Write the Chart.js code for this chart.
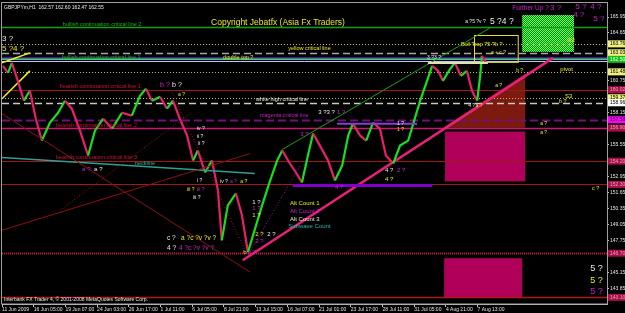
<!DOCTYPE html>
<html>
<head>
<meta charset="utf-8">
<script src="https://cdn.jsdelivr.net/npm/chart.js@4.4.0/dist/chart.umd.min.js"></script>
<style>
  html, body { margin: 0; padding: 0; background: #000; }
  canvas { display: block; }
</style>
</head>
<body>
<canvas id="chart" width="625" height="313" style="width:625px;height:313px"></canvas>
<script>
// GBPJPY H1, 11 Jun - 7 Aug 2009. x = bar number (one bar = one hour)
const timeLabels = ['11 Jun 2009', '16 Jun 05:00', '19 Jun 07:00', '24 Jun 03:00', '26 Jun 17:00', '1 Jul 11:00',
  '6 Jul 05:00', '8 Jul 21:00', '13 Jul 15:00', '16 Jul 07:00', '21 Jul 01:00', '23 Jul 17:00',
  '28 Jul 11:00', '31 Jul 05:00', '4 Aug 21:00', '7 Aug 13:00'];
const barsPerLabel = 74;
const priceTicks = [165.95, 164.65, 160.75, 158.15, 155.55, 152.95, 151.65, 150.35, 149.05, 147.75, 145.15, 143.85];

// price swings
const barIndex = [2, 14, 23, 37, 51, 65, 79, 93, 112, 131, 147, 163, 182, 201, 217, 236, 257, 280, 303, 322,
  336, 350, 369, 385, 399, 415, 432, 446, 457, 474, 490, 504, 513, 527, 546, 560, 574, 588, 607, 626,
  642, 654, 672, 686, 700, 714, 726, 742, 761, 777, 794, 808, 819, 836, 850, 866, 882, 896, 913, 929,
  948, 962, 976, 992, 1004, 1018, 1029, 1046, 1057, 1071, 1085, 1097, 1109, 1116, 1120, 1130];
const closePrices = [161.97, 161.40, 162.21, 160.75, 159.13, 159.94, 157.66, 155.88, 157.34, 158.15, 159.13, 158.48,
  156.69, 154.66, 156.69, 157.66, 156.85, 158.15, 157.91, 159.53, 160.10, 159.13, 159.45, 158.48, 159.13,
  157.66, 156.28, 154.25, 155.07, 153.28, 154.25, 151.82, 147.75, 150.60, 151.57, 149.79, 146.78, 148.40,
  150.60, 152.63, 154.25, 155.07, 154.01, 153.28, 152.47, 154.66, 156.45, 155.47, 154.25, 152.63, 153.85,
  156.28, 157.26, 156.28, 155.88, 157.34, 156.85, 154.66, 154.01, 155.47, 155.88, 157.50, 159.13, 160.75,
  161.97, 161.56, 160.75, 161.73, 162.21, 161.16, 161.56, 159.94, 159.13, 161.16, 162.78, 162.21];

// horizontal levels
const levelNames = ['bull2', 'R3', 'yellowCrit', 'purple', 'bid', 'blue', 'pivot', 'bear1', 'S3', 'whiteHigh',
  'magentaCrit', 'bear2', 'bear3', 'bear4', 'bear5', 'bottom'];
const levelPrices = [165.14, 163.76, 163.03, 162.62, 162.50, 162.40, 161.48, 160.02, 159.37, 158.96,
  157.58, 156.90, 154.20, 152.30, 146.70, 143.10];

// trend lines [bar, price]
const pinkTrend = [[562, 146.13], [1286, 162.62]];
const greenChannel = [[654, 155.15], [1139, 165.06]];
const yellowLineA = [[0, 159.29], [65, 161.56]];
const yellowLineB = [[0, 162.21], [65, 163.03]];
const neckline = [[0, 154.50], [590, 153.20]];
const redLine1 = [[0, 148.57], [579, 154.82]];
const redLine2 = [[135, 150.19], [439, 158.07]];
const redLine3 = [[0, 158.07], [579, 145.16]];
const redLine4 = [[397, 159.78], [572, 146.54]];
const redLine5 = [[574, 146.54], [696, 153.85]];
const purpleLow = [[679, 152.22], [1004, 152.22]];
const purpleMid = [[782, 157.26], [969, 157.26]];
const topBase = [[994, 162.21], [1134, 162.21]];

// zones [bar from, bar to, price top, price bottom]
const greenTarget = [1214, 1335, 166.11, 163.11];
const bullTrapBox = [1102, 1204, 164.49, 162.30];
const magentaZone1 = [1034, 1221, 156.61, 152.55];
const magentaZone2 = [1032, 1214, 146.29, 143.12];
const redWedge = [[1029, 156.93], [1221, 161.32], [1221, 156.93]];

const C = {
  green: '#22b022', yellow: '#e8e820', red: '#d0103a', white: '#e8e8e8', magenta: '#c820c8',
  teal: '#30b8a8', maroon: '#a8104a'
};

const levelStyle = {
  bull2: { color: '#10a010', width: 1.5, dash: [] },
  R3: { color: '#c8c020', width: 1, dash: [1, 2], tag: '#f0f080' },
  yellowCrit: { color: '#a8a8a8', width: 1.5, dash: [7, 4], tag: '#f0f080' },
  purple: { color: '#8040ff', width: 2, dash: [] },
  bid: { color: '#10ff10', width: 1, dash: [], tag: '#10c010', tagText: '#fff' },
  blue: { color: '#b8c8ff', width: 1, dash: [] },
  pivot: { color: '#c8c020', width: 1, dash: [1, 2], tag: '#f0f080' },
  bear1: { color: '#a01818', width: 1, dash: [], tag: C.maroon },
  S3: { color: '#c8c020', width: 1, dash: [1, 2], tag: '#f0f080' },
  whiteHigh: { color: '#c8c8c8', width: 1.5, dash: [7, 4], tag: '#ffffff' },
  magentaCrit: { color: '#70107a', width: 2, dash: [8, 4], tag: '#ff00ff' },
  bear2: { color: '#c81870', width: 1.5, dash: [], tag: C.maroon },
  bear3: { color: '#a01818', width: 1, dash: [], tag: C.maroon },
  bear4: { color: '#a01818', width: 1, dash: [], tag: C.maroon },
  bear5: { color: '#d0103a', width: 2, dash: [1, 1], tag: C.maroon },
  bottom: { color: '#b01818', width: 1.5, dash: [], tag: C.maroon }
};

// wave counts and labels [text, bar, price, colour, size]
const notes = [
  ['bullish continuation critical line 2', 142, 165.38, C.green, 5.5],
  ['Copyright Jebatfx (Asia Fx Traders)', 488, 165.46, C.yellow, 8.5],
  ['yellow critical line', 668, 163.35, C.yellow, 5.5],
  ['double top ?', 516, 162.62, C.yellow, 5.5],
  ['bullish continuation critical line 1', 140, 162.62, C.green, 5.5],
  ['bearish continuation critical line 1', 135, 160.26, C.red, 5.5],
  ['white high critical line', 593, 159.21, C.white, 5.5],
  ['magenta critical line', 602, 157.91, C.magenta, 5.5],
  ['bearish continuation critical line 2', 126, 157.10, C.red, 5.5],
  ['bearish continuation critical line 3', 126, 154.50, C.red, 5.5],
  ['neckline', 310, 154.01, C.teal, 5.5],
  ['Alt Count 1', 672, 150.76, C.yellow, 6],
  ['Alt Count 2', 672, 150.11, C.magenta, 6],
  ['Alt Count 3', 672, 149.46, C.white, 6],
  ['Subwave Count', 668, 148.89, C.teal, 6],
  ['Further Up ?', 1191, 166.68, C.magenta, 6.5],
  ['3 ?', 1279, 166.68, C.magenta, 8],
  ['5 ?', 1338, 166.76, C.magenta, 8],
  ['4 ?', 1373, 166.76, C.magenta, 8],
  ['4 ?', 1333, 166.11, C.magenta, 8],
  ['5 ?', 1380, 165.79, C.magenta, 8],
  ['a ?5 ?v ?', 1081, 165.55, C.white, 5],
  ['5 ?4 ?', 1139, 165.55, C.white, 8.5],
  ['Bull Trap ?5 ?b ?', 1071, 163.68, C.yellow, 5.5],
  ['a + c ?', 1141, 163.03, C.yellow, 5],
  ['R3', 1319, 164.08, C.yellow, 6],
  ['pivot', 1303, 161.65, C.yellow, 6],
  ['S3', 1314, 159.45, C.yellow, 6],
  ['3 ?3 ?', 992, 162.62, C.white, 5],
  ['b ?', 1200, 161.56, C.yellow, 5],
  ['a ?', 1151, 160.35, C.yellow, 5],
  ['b ?', 1300, 159.05, C.yellow, 5.5],
  ['a ?', 1256, 157.26, C.yellow, 5],
  ['a ?', 1256, 156.53, C.yellow, 5],
  ['c ?', 1377, 151.98, C.yellow, 5.5],
  ['4 ?', 1088, 158.72, C.white, 5],
  ['a ?', 1105, 158.72, C.yellow, 5],
  ['b ?', 369, 160.43, C.magenta, 7],
  ['b ?', 397, 160.43, C.white, 7],
  ['a ?', 411, 159.61, C.yellow, 5],
  ['3 ?3 ?', 738, 158.15, C.white, 6],
  ['1 ?', 782, 158.15, C.magenta, 6],
  ['3 ?', 696, 156.37, C.magenta, 6],
  ['4 ?', 894, 153.44, C.white, 6],
  ['2 ?', 922, 153.44, C.magenta, 6],
  ['4 ?', 894, 152.71, C.yellow, 6],
  ['4 ?', 777, 152.06, C.magenta, 6],
  ['1 ?', 922, 157.26, C.white, 5],
  ['1 ?', 922, 156.77, C.yellow, 5],
  ['iv ?', 455, 156.85, C.white, 5],
  ['ii ?', 455, 156.20, C.white, 5],
  ['ii ?', 458, 155.63, C.white, 5],
  ['i ?', 455, 152.63, C.white, 5],
  ['iii ?', 432, 151.90, C.yellow, 5],
  ['iii ?', 455, 151.90, C.magenta, 5],
  ['iii ?', 446, 151.25, C.white, 5],
  ['iv ?', 509, 152.55, C.white, 5],
  ['a ?', 532, 152.55, C.magenta, 5],
  ['a ?', 556, 152.55, C.yellow, 5],
  ['a ?', 187, 153.52, C.magenta, 6],
  ['a ?', 215, 153.52, C.white, 6],
  ['c ?', 385, 147.92, C.white, 6.5],
  ['a ?c ?v ?v ?', 418, 147.92, C.yellow, 6.5],
  ['4 ?', 385, 147.11, C.white, 6.5],
  ['4 ?c ?v ?v ?', 413, 147.11, C.magenta, 6.5],
  ['b', 563, 146.78, C.yellow, 6],
  ['2 ?', 574, 146.78, C.magenta, 6],
  ['2 ?', 591, 148.24, C.yellow, 6],
  ['2 ?', 619, 148.24, C.white, 6],
  ['2 ?', 591, 147.67, C.magenta, 6],
  ['1 ?', 584, 150.84, C.white, 6],
  ['1 ?', 584, 150.35, C.magenta, 6],
  ['1 ?', 584, 149.79, C.yellow, 6],
  ['5 ?', 1373, 145.48, C.white, 9],
  ['5 ?', 1373, 144.51, C.yellow, 9],
  ['5 ?', 1373, 143.61, C.magenta, 9],
  ['3 ?', 0, 164.16, C.white, 8],
  ['5 ?4 ?', 0, 163.35, C.yellow, 8]
];

const FONT = 'Liberation Sans, Arial, sans-serif';

function toPts(arr) {
  return arr.map(p => ({ x: p[0], y: p[1] }));
}

function lineSet(pts, color, width, dash) {
  return {
    data: toPts(pts), borderColor: color, borderWidth: width, borderDash: dash || [],
    pointRadius: 0, tension: 0, fill: false
  };
}

const datasets = [
  lineSet(redLine1, '#901010', 1),
  lineSet(redLine2, '#a01020', 1, [1, 2]),
  lineSet(redLine3, '#901010', 1),
  lineSet(redLine4, '#a01040', 1, [1, 2]),
  lineSet(redLine5, '#a01090', 1, [1, 2]),
  lineSet(neckline, '#30a090', 1.5),
  lineSet(purpleLow, '#8000c8', 3),
  lineSet(purpleMid, '#8040d0', 2),
  lineSet(topBase, '#e0e0b0', 2),
  {
    data: barIndex.map((b, i) => ({ x: b, y: closePrices[i] })),
    borderWidth: 2.2, pointRadius: 0, tension: 0, fill: false, borderColor: '#10e010',
    segment: { borderColor: c => c.p1.parsed.y >= c.p0.parsed.y ? '#18e018' : '#e8206a' }
  },
  lineSet(greenChannel, '#10a010', 1),
  lineSet(yellowLineA, '#f0f020', 1.5),
  lineSet(yellowLineB, '#f0f020', 1.5),
  lineSet(pinkTrend, '#e8207a', 2.5)
];

function greenDots(ctx) {
  const c = document.createElement('canvas');
  c.width = 2; c.height = 2;
  const g = c.getContext('2d');
  g.fillStyle = '#108a10'; g.fillRect(0, 0, 2, 2);
  g.fillStyle = '#60ff60'; g.fillRect(0, 0, 1, 1); g.fillRect(1, 1, 1, 1);
  return ctx.createPattern(c, 'repeat');
}

const mtPlugin = {
  id: 'mt4',
  beforeDraw(chart) {
    const ctx = chart.ctx;
    ctx.save();
    ctx.fillStyle = '#000';
    ctx.fillRect(0, 0, chart.width, chart.height);
    ctx.restore();
  },
  beforeDatasetsDraw(chart) {
    const { ctx, chartArea: a, scales: { x, y } } = chart;
    ctx.save();
    ctx.beginPath();
    ctx.rect(a.left, a.top, a.right - a.left, a.bottom - a.top);
    ctx.clip();

    const box = (z, fill) => {
      const x0 = x.getPixelForValue(z[0]), x1 = x.getPixelForValue(z[1]);
      const y0 = y.getPixelForValue(z[2]), y1 = y.getPixelForValue(z[3]);
      ctx.fillStyle = fill;
      ctx.fillRect(x0, y0, x1 - x0, y1 - y0);
    };
    box(greenTarget, greenDots(ctx));
    box(magentaZone1, '#b0005a');
    box(magentaZone2, '#b0005a');

    ctx.fillStyle = '#7c1a10';
    ctx.beginPath();
    redWedge.forEach((p, i) => {
      const px = x.getPixelForValue(p[0]), py = y.getPixelForValue(p[1]);
      if (i === 0) ctx.moveTo(px, py); else ctx.lineTo(px, py);
    });
    ctx.closePath();
    ctx.fill();

    levelNames.forEach((n, i) => {
      const s = levelStyle[n];
      const py = Math.round(y.getPixelForValue(levelPrices[i])) + 0.5;
      ctx.strokeStyle = s.color;
      ctx.lineWidth = s.width;
      ctx.setLineDash(s.dash);
      ctx.beginPath();
      ctx.moveTo(a.left, py);
      ctx.lineTo(a.right, py);
      ctx.stroke();
    });
    ctx.setLineDash([]);

    // bull trap frame
    const bx0 = x.getPixelForValue(bullTrapBox[0]), bx1 = x.getPixelForValue(bullTrapBox[1]);
    const by0 = y.getPixelForValue(bullTrapBox[2]), by1 = y.getPixelForValue(bullTrapBox[3]);
    ctx.strokeStyle = '#e8e020';
    ctx.lineWidth = 1;
    ctx.strokeRect(Math.round(bx0) + 0.5, Math.round(by0) + 0.5, bx1 - bx0, by1 - by0);
    ctx.restore();
  },
  afterDatasetsDraw(chart) {
    const { ctx, chartArea: a, scales: { x, y } } = chart;
    ctx.save();
    ctx.textAlign = 'left';
    ctx.textBaseline = 'middle';
    notes.forEach(([t, b, p, col, size]) => {
      ctx.font = size + 'px ' + FONT;
      ctx.fillStyle = col;
      ctx.fillText(t, x.getPixelForValue(b), y.getPixelForValue(p));
    });

    ctx.font = '5px ' + FONT;
    ctx.fillStyle = '#e8e8e8';
    ctx.textBaseline = 'top';
    ctx.fillText('GBPJPYm,H1  162.57 162.60 162.47 162.55', a.left + 2, a.top + 1);
    ctx.textBaseline = 'bottom';
    ctx.fillText('Interbank FX Trader 4, \u00a9 2001-2008 MetaQuotes Software Corp.', a.left + 2, a.bottom - 2);

    ctx.strokeStyle = '#a0a0a0';
    ctx.lineWidth = 1;
    ctx.strokeRect(a.left - 0.5, a.top - 1.5, a.right - a.left + 1, a.bottom - a.top + 1.5);
    ctx.restore();
  },
  afterDraw(chart) {
    const { ctx, chartArea: a, scales: { y } } = chart;
    ctx.save();
    ctx.font = '5px ' + FONT;
    ctx.textBaseline = 'middle';
    levelNames.forEach((n, i) => {
      const s = levelStyle[n];
      if (!s.tag) return;
      const py = y.getPixelForValue(levelPrices[i]);
      ctx.fillStyle = s.tag;
      ctx.fillRect(a.right + 1, py - 3.5, chart.width - a.right - 1, 7);
      ctx.fillStyle = s.tagText || (s.tag === C.maroon ? '#e0a0b0' : '#000');
      ctx.fillText(levelPrices[i].toFixed(2), a.right + 3, py);
    });
    ctx.restore();
  }
};

const chart = new Chart(document.getElementById('chart').getContext('2d'), {
  type: 'line',
  data: { datasets: datasets },
  options: {
    responsive: false,
    animation: false,
    events: [],
    layout: { padding: { left: 2, top: 3, right: 0, bottom: 0 } },
    plugins: { legend: { display: false }, tooltip: { enabled: false } },
    scales: {
      x: {
        type: 'linear', min: 0, max: 1412,
        afterBuildTicks: s => { s.ticks = timeLabels.map((_, i) => ({ value: i * barsPerLabel })); },
        afterFit: s => { s.height = 9; },
        ticks: {
          color: '#e0e0e0', font: { family: FONT, size: 5 }, align: 'start',
          maxRotation: 0, autoSkip: false, padding: 0,
          callback: v => timeLabels[Math.round(v / barsPerLabel)]
        },
        grid: { drawOnChartArea: false, color: '#c0c0c0', tickLength: 3 },
        border: { color: '#c0c0c0' }
      },
      y: {
        position: 'right', min: 142.56, max: 167.01,
        afterBuildTicks: s => { s.ticks = priceTicks.map(v => ({ value: v })); },
        afterFit: s => { s.width = 18; },
        ticks: { color: '#e0e0e0', font: { family: FONT, size: 5 }, padding: 1, callback: v => v.toFixed(2) },
        grid: { drawOnChartArea: false, color: '#c0c0c0', tickLength: 2 },
        border: { color: '#c0c0c0' }
      }
    }
  },
  plugins: [mtPlugin]
});
</script>
</body>
</html>
